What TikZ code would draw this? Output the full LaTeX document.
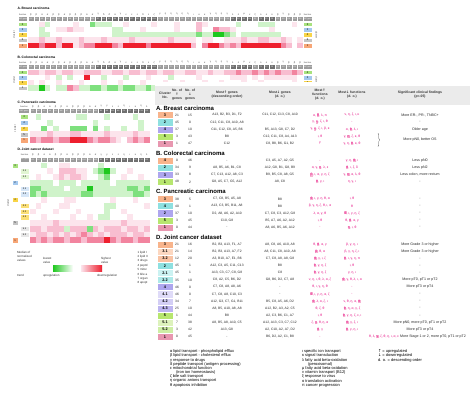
\documentclass[tikz,border=0pt]{standalone}
\usepackage{fontspec}
\setmainfont{Liberation Sans}
\newfontfamily\arr{DejaVu Sans}
\usetikzlibrary{decorations.pathreplacing}
\definecolor{hm0}{HTML}{1EC81E}
\definecolor{hm1}{HTML}{7EE07E}
\definecolor{hm2}{HTML}{CFF3CA}
\definecolor{hm3}{HTML}{FFFFFF}
\definecolor{hm4}{HTML}{FCE4EC}
\definecolor{hm5}{HTML}{F8BDD0}
\definecolor{hm6}{HTML}{F2849F}
\definecolor{hm7}{HTML}{EE1F2E}
\definecolor{hcG}{HTML}{A8E27E}
\definecolor{hcB}{HTML}{A4C8EE}
\definecolor{hcY}{HTML}{F8D448}
\definecolor{hcK}{HTML}{C4C4C4}
\definecolor{hcO}{HTML}{F7A676}
\definecolor{gx1}{HTML}{9C9C9C}
\definecolor{gx2}{HTML}{707070}
\definecolor{funpink}{HTML}{E6007E}
\definecolor{hlbg}{HTML}{F7B3D2}
\definecolor{tcO}{HTML}{F8B48C}
\definecolor{tcOa}{HTML}{FCD7C0}
\definecolor{tcOb}{HTML}{F9C3A4}
\definecolor{tcC}{HTML}{8EE0E0}
\definecolor{tcCa}{HTML}{CBF2F2}
\definecolor{tcCb}{HTML}{AEE9E9}
\definecolor{tcP}{HTML}{AEA6EE}
\definecolor{tcPa}{HTML}{DFDBF8}
\definecolor{tcPb}{HTML}{D3CEF5}
\definecolor{tcPc}{HTML}{BDB5F0}
\definecolor{tcG}{HTML}{B7E66F}
\definecolor{tcGa}{HTML}{DDF2BC}
\definecolor{tcGb}{HTML}{CEEEA5}
\definecolor{tcK}{HTML}{E897B0}
\definecolor{headgray}{HTML}{EBEBEB}
\newcommand\hl[1]{\begingroup\setlength{\fboxsep}{0.3pt}\colorbox{hlbg}{#1}\endgroup}
\newcommand\genesAB{A1/β/1,A2/β/1,A3/α/1,A4/α/1,A5/β/1,A6/β/1,A7/α/1,A8/β/1,A9/β/1,A10/β/1,A12/α/1,A13/α/1,B1/γ/2,B2/δ/2,B3/δ/2,B4/α/2,B5/γ/2,B6/ε/2,B7/ε/2,B8/ε/2,B9/δ/2,B10/ε/2,B11/ζ/2,C1/γ/1,C2/η/1,C3/η/1,C4/η/1,C5/η/1,C6/η/1,C7/ι/1,C8/κ/1,C9/κ/1,C10/γ/1,C11/η/1,C12/η/1,C13/γ/1,D1/λ/2,D2/λ/2,D3/μ/2,D4/ν/2,E1/ξ/1,F1/ο/2,F2/ο/2,F3/ο/2,G1/β/1,G2/γ/1,G4/β/1,G5/β/1,G8/β/1}
\newcommand\genesCD{A1/β/1,A2/β/1,A3/α/1,A4/α/1,A5/β/1,A6/β/1,A7/α/1,A8/β/1,A9/β/1,A10/β/1,A12/α/1,A13/α/1,B1/γ/2,B5/γ/2,B6/ε/2,B8/ε/2,C3/η/2,C7/ι/2,C8/κ/2,C11/η/2,D2/λ/2}
\newcommand\hmhead[6]{%
  \foreach \g/\f/\s [count=\i from 0] in #6 {%
    \node[funlbl] (#1f\i) at ({#2+(\i+0.5)*#3},#4) {\f};
    \node[genecell, fill=gx\s, minimum width=#3pt] (#1g\i) at ({#2+(\i+0.5)*#3},#5) {\g};
  }}
\newcommand\hmrow[5]{%
  \foreach \v [count=\i from 0] in {#5} {%
    \fill[fill=hm\v] ({#1+\i*#2},#3) rectangle ({#1+(\i+1)*#2+0.05},{#3+#4});
  }}
\newcommand\trow[9]{%
  \node[cbox, fill=#3] (#1c) at (165,#2) {#4};
  \node[tc] (#1u) at (177,#2) {#5};
  \node[tc] (#1d) at (190,#2) {#6};
  \node[tc] (#1ug) at (227,#2) {#7};
  \node[tc] (#1dg) at (280,#2) {#8};
  \node[tc,fun] (#1uf) at (320,#2) {#9};}
\newcommand\trowb[4]{%
  \node[tc,fun] (#1df) at (352,#2) {#3};
  \node[tc,clin] (#1cl) at (420,#2) {#4};}
\tikzset{
  every node/.style={inner sep=0pt, outer sep=0pt},
  hlabel/.style={anchor=west, font=\fontsize{3.3}{4}\selectfont\bfseries},
  sidelbl/.style={font=\fontsize{2.1}{2.5}\selectfont, text=black!75},
  funlbl/.style={font=\fontsize{2.5}{3}\selectfont, text=black!70},
  genecell/.style={minimum height=4.4pt, draw=white, line width=0.15pt, text=white, font=\fontsize{1.9}{2.2}\selectfont},
  hbox/.style={minimum width=8.6pt, minimum height=4.7pt, font=\fontsize{2.6}{3}\selectfont, draw=white, line width=0.2pt},
  dbox/.style={minimum width=6pt, minimum height=5.2pt, font=\fontsize{2.6}{3}\selectfont, draw=white, line width=0.2pt},
  dsub/.style={minimum width=8.5pt, minimum height=5.4pt, font=\fontsize{2.4}{3}\selectfont, draw=white, line width=0.2pt},
  vlbl/.style={font=\fontsize{2.4}{3}\selectfont, text=black!75},
  cbox/.style={minimum width=16pt, minimum height=7.1pt, draw=white, line width=0.4pt, font=\fontsize{3.8}{4.2}\selectfont\bfseries},
  tc/.style={font=\fontsize{3.3}{3.8}\selectfont, text=black!85},
  fun/.style={text=funpink},
  clin/.style={font=\fontsize{3.6}{4}\selectfont},
  thead/.style={font=\fontsize{3.4}{4.1}\selectfont\bfseries, align=center, text=black!80},
  seclbl/.style={anchor=west, font=\fontsize{6}{7}\selectfont\bfseries},
  legtext/.style={anchor=west, font=\fontsize{4}{4.5}\selectfont},
  smalltext/.style={anchor=west, align=left, font=\fontsize{3}{4}\selectfont, text=black!80},
}
\begin{document}
\begin{tikzpicture}[x=1pt,y=-1pt]
\useasboundingbox[fill=white] (0,0) rectangle (471,408);

% ================= Heatmap A =================
\node[hlabel] (ttlA) at (17.5,8) {A. Breast carcinoma};
\node[sidelbl] (afl) at (22.7,14.5) {function};
\node[genecell, fill=gx1, minimum width=9pt] (agl) at (22.7,18.75) {ABC gene};
\node[sidelbl] (afr) at (307.5,14.5) {function};
\node[genecell, fill=gx1, minimum width=9pt] (agr) at (307.5,18.75) {ABC gene};
\hmhead{a}{28}{5.612}{14.5}{18.75}{\genesAB}
\hmrow{28}{5.612}{21.5}{5.3}{3,3,4,2,3,3,3,3,4,3,3,1,2,2,2,3,3,4,3,3,3,3,4,3,3,3,4,3,3,3,5,4,3,3,3,3,3,2,3,3,3,2,2,2,3,3,3,4,3}
\hmrow{28}{5.612}{26.8}{5.3}{3,3,2,3,3,4,4,5,4,4,3,3,3,3,3,2,2,3,3,3,4,3,3,3,3,3,4,3,3,3,5,3,3,6,5,5,4,3,3,3,3,3,3,4,3,3,3,3,3}
\hmrow{28}{5.612}{32.1}{5.3}{3,3,2,2,3,3,3,3,3,3,3,3,3,3,3,2,2,2,2,2,2,2,2,2,2,2,2,2,2,2,1,2,2,0,0,1,2,3,2,2,2,2,2,2,2,3,3,3,3}
\hmrow{28}{5.612}{37.4}{5.3}{4,4,5,4,4,5,4,4,4,5,4,4,4,5,4,4,4,4,5,4,4,4,4,4,4,5,4,4,4,4,3,4,4,3,3,4,4,4,5,4,4,5,5,4,4,5,4,3,4}
\hmrow{28}{5.612}{42.7}{5.3}{7,7,6,7,7,5,7,7,4,5,6,6,7,7,7,6,5,7,7,7,7,6,7,7,7,7,7,7,7,5,3,6,7,7,6,5,6,5,7,7,7,7,7,7,7,6,5,3,5}
\foreach \lab/\col [count=\k from 0] in {3/hcG,2/hcB,4/hcY,5/hcK,1/hcO} {
  \node[hbox, fill=\col] (aL\k) at (22.7,{24.15+5.3*\k}) {\lab};
  \node[hbox, fill=\col] (aR\k) at (307.5,{24.15+5.3*\k}) {\lab};
}
\node[vlbl, rotate=90] (aclL) at (14,34.7) {cluster};
\node[vlbl, rotate=-90] (aclR) at (316.5,34.7) {cluster};

% ================= Heatmap B =================
\node[hlabel] (ttlB) at (17.5,57) {B. Colorectal carcinoma};
\node[sidelbl] (bfl) at (22.7,62.5) {function};
\node[genecell, fill=gx1, minimum width=9pt] (bgl) at (22.7,66.75) {ABC gene};
\node[sidelbl] (bfr) at (307.5,62.5) {function};
\node[genecell, fill=gx1, minimum width=9pt] (bgr) at (307.5,66.75) {ABC gene};
\hmhead{b}{28}{5.612}{62.5}{66.75}{\genesAB}
\hmrow{28}{5.612}{69.5}{5.3}{5,5,4,5,5,4,5,5,4,4,5,5,5,4,4,5,5,4,5,5,4,5,5,4,5,5,4,4,5,5,4,4,5,4,4,5,5,6,5,5,6,5,6,5,6,5,5,6,5}
\hmrow{28}{5.612}{74.8}{5.3}{3,3,3,4,3,2,3,2,3,3,7,3,3,2,3,3,3,2,3,3,3,4,3,3,3,2,3,3,3,3,4,3,3,3,3,3,4,4,4,3,4,3,4,4,4,4,4,4,3}
\hmrow{28}{5.612}{80.1}{5.3}{4,3,4,3,3,4,3,3,3,4,3,3,3,4,3,3,4,3,3,3,4,3,3,3,4,3,3,4,3,3,3,4,3,3,4,3,3,3,4,3,3,4,3,3,3,3,3,4,3}
\hmrow{28}{5.612}{85.4}{5.3}{2,2,0,2,3,2,2,6,5,2,2,1,1,2,1,1,2,1,1,2,2,1,2,2,2,1,2,2,1,2,2,1,2,2,2,1,2,2,1,2,2,2,1,2,2,2,1,2,2}
\foreach \lab/\col [count=\k from 0] in {4/hcG,2/hcB,3/hcY,1/hcK} {
  \node[hbox, fill=\col] (bL\k) at (22.7,{72.15+5.3*\k}) {\lab};
  \node[hbox, fill=\col] (bR\k) at (307.5,{72.15+5.3*\k}) {\lab};
}
\node[vlbl, rotate=90] (bclL) at (14,80.1) {cluster};
\node[vlbl, rotate=-90] (bclR) at (316.5,80.1) {cluster};

% ================= Heatmap C =================
\node[hlabel] (ttlC) at (17.5,102) {C. Pancreatic carcinoma};
\node[sidelbl] (cfl) at (24,106.5) {function};
\node[genecell, fill=gx1, minimum width=11pt] (cgl) at (24,110.75) {ABC gene};
\hmhead{c}{30}{5.7}{106.5}{110.75}{\genesCD}
\hmrow{30}{5.7}{114}{5.8}{3,2,3,3,3,3,3,3,2,2,3,3,3,2,3,3,3,3,2,3,3}
\hmrow{30}{5.7}{119.8}{5.8}{3,3,3,2,3,3,3,3,3,3,3,2,3,3,3,3,3,3,3,2,3}
\hmrow{30}{5.7}{125.6}{5.8}{3,3,1,3,2,3,3,1,1,1,3,1,3,2,3,3,2,3,3,2,3}
\hmrow{30}{5.7}{131.4}{5.8}{4,4,4,5,4,4,4,5,5,4,4,4,4,5,4,4,4,4,5,4,4}
\hmrow{30}{5.7}{137.2}{5.8}{6,5,6,6,5,6,6,7,7,7,6,5,6,6,5,4,3,5,6,5,6}
\foreach \lab/\col [count=\k from 0] in {3/hcG,4/hcB,2/hcY,5/hcK,1/hcO} {
  \node[hbox, fill=\col, minimum height=5.2pt] (cL\k) at (24,{116.9+5.8*\k}) {\lab};
}
\node[vlbl, rotate=90] (cclL) at (15,128.5) {cluster};

% ================= Heatmap D =================
\node[hlabel] (ttlD) at (17.5,149.5) {D. Joint cancer dataset};
\node[sidelbl] (dfl) at (24.5,154.7) {function};
\node[genecell, fill=gx1, minimum width=9pt] (dgl) at (24.5,159.5) {ABC gene};
\hmhead{d}{30}{5.7}{154.7}{159.5}{\genesCD}
\hmrow{30}{5.7}{162.5}{5.75}{3,3,2,3,3,4,4,3,3,3,3,3,2,3,3,3,3,3,3,3,3}
\hmrow{30}{5.7}{168.25}{5.75}{3,3,3,4,3,5,5,5,4,4,3,2,1,0,2,3,3,4,3,3,3}
\hmrow{30}{5.7}{174}{5.75}{3,4,3,3,4,5,4,5,5,4,3,3,2,1,3,3,4,3,3,4,3}
\hmrow{30}{5.7}{179.75}{5.75}{2,2,2,2,3,2,2,2,3,2,2,2,2,2,3,2,2,2,2,2,2}
\hmrow{30}{5.7}{185.5}{5.75}{1,1,2,2,2,2,3,2,2,2,0,2,2,2,2,2,2,1,1,2,1}
\hmrow{30}{5.7}{191.25}{5.75}{1,2,1,2,2,2,2,2,2,1,1,2,2,2,2,2,2,2,1,1,2}
\hmrow{30}{5.7}{197}{5.75}{3,3,4,3,3,3,4,4,3,3,3,3,3,3,4,3,3,3,4,3,3}
\hmrow{30}{5.7}{202.75}{5.75}{3,4,3,3,3,4,4,3,3,3,3,3,3,2,2,3,3,3,3,3,4}
\hmrow{30}{5.7}{208.5}{5.75}{4,3,3,3,4,3,3,3,4,3,3,3,3,2,3,3,4,3,3,3,3}
\hmrow{30}{5.7}{214.25}{5.75}{3,3,4,3,3,3,3,4,3,3,4,3,2,2,3,3,3,4,3,3,3}
\hmrow{30}{5.7}{220}{5.75}{4,4,4,4,5,4,4,4,4,4,4,4,4,4,4,4,5,4,4,4,4}
\hmrow{30}{5.7}{225.75}{5.75}{5,5,4,5,5,5,2,5,5,5,1,5,4,5,5,5,4,5,5,4,5}
\hmrow{30}{5.7}{231.5}{5.75}{4,5,5,4,5,4,5,4,5,6,5,4,5,4,5,5,5,4,5,5,4}
\hmrow{30}{5.7}{237.25}{5.75}{6,5,6,5,6,6,5,6,6,5,6,6,6,7,6,5,6,6,5,6,6}
\foreach \lab/\col/\r in {3/hcG/0,2/hcB/3,4/hcY/6,5/hcK/10,1/hcO/13} {
  \node[dbox, fill=\col] (dL\r) at (15,{165.375+5.75*\r}) {\lab};
}
\foreach \lab/\col/\r in {3.1/hcG!35/1,3.2/hcG!35/2,2.1/hcB!45/4,2.2/hcB!45/5,4.1/hcY!75/7,4.2/hcY!75/8,4.3/hcY!75/9,5.1/hcK!40/11,5.2/hcK!40/12} {
  \node[dsub, fill=\col] (dS\r) at (24.5,{165.375+5.75*\r}) {\lab};
}
\node[vlbl, rotate=90] (dclL) at (8,203) {cluster};

% ================= Left legend =================
\node[smalltext] (medv) at (17,256) {Median of\\normalized\\values};
\node[smalltext] (lowv) at (43,260.5) {lowest\\value};
\node[smalltext] (highv) at (101,260.5) {highest\\value};
\node[minimum width=20pt, minimum height=6pt, left color=hm0, right color=white] (gradG) at (63,268.5) {};
\node[minimum width=21pt, minimum height=6pt, left color=hm4, right color=hm7] (gradR) at (91.5,268.5) {};
\node[smalltext] (trnd) at (17,275.5) {trend};
\node[smalltext] (upr) at (43,275.5) {upregulation};
\node[smalltext] (dnr) at (97,275.5) {downregulation};
\foreach \t [count=\k from 0] in {1 lipid I,2 lipid II,3 drugs,4 peptd,5 mitoc,6 bile a,7 organ,8 apopt} {
  \node[smalltext] (fn\k) at (137.5,{252.5+4.3*\k}) {\t};
}

% ================= Table =================
\fill[white] (155,82) rectangle (471,345);
\fill[headgray] (155,86) rectangle (470,104.5);
\node[thead] (h1) at (165,95) {Cluster\\No.};
\node[thead] (h2) at (177,95) {No. of\\{\arr ↑}\\genes};
\node[thead] (h3) at (190,95) {No. of\\{\arr ↓}\\genes};
\node[thead] (h4) at (227,95) {Most{\arr ↑} genes\\(descending order)};
\node[thead] (h5) at (280,95) {Most{\arr ↓} genes\\(d. o.)};
\node[thead] (h6) at (320,95) {Most{\arr ↑}\\functions\\(d. o.)};
\node[thead] (h7) at (352,95) {Most{\arr ↓} functions\\(d. o.)};
\node[thead] (h8) at (420,95) {Significant clinical findings\\(p<.05)};

% A
\node[seclbl] (sA) at (156,108) {A. Breast carcinoma};
\trow{tA1}{115.05}{tcO}{3}{21}{15}{A13, B2, B3, D1, F2}{C11, C12, C13, C8, A10}{α, \hl{θ}, λ, π}
\trowb{tA1}{115.05}{ν, η, ζ, ι, κ}{More ER-, PR-, TNBC+}
\trow{tA2}{122.15}{tcC}{2}{45}{0}{C12, C11, C8, A10, A8}{-}{γ, \hl{η}, ζ, ι, θ}
\trowb{tA2}{122.15}{-}{-}
\trow{tA3}{129.25}{tcP}{4}{37}{10}{C11, C12, C8, A5, B6}{B5, A13, G8, C7, D2}{γ, \hl{η}, ζ, ι, β, κ}
\trowb{tA3}{129.25}{α, \hl{θ}, λ, ι}{Older age}
\trow{tA4}{136.35}{tcG}{5}{3}{43}{B8}{C12, C11, C8, A4, A13}{ι, θ}
\node[tc,fun] (tA4df) at (352,136.35) {γ, \hl{η}, ζ, κ, θ};
\trow{tA5}{143.45}{tcK}{1}{1}{47}{C12}{C8, B8, B6, G1, B2}{γ}
\node[tc,fun] (tA5df) at (352,143.45) {γ, η, \hl{θ}, κ, θ};
\coordinate (brT) at (378,133.3);
\coordinate (brB) at (378,146.5);
\draw[decorate, decoration={brace, amplitude=1.6pt}, line width=0.3pt, black!70] (brT) -- (brB);
\node[tc,clin] (tA45cl) at (420,139.9) {More pN0, better OS};

% B
\node[seclbl] (sB) at (156,153.5) {B. Colorectal carcinoma};
\trow{tB1}{160.55}{tcO}{4}{0}{46}{-}{C3, A5, A7, A2, G5}{-}
\trowb{tB1}{160.55}{γ, η, \hl{θ}, ι}{Less pN0}
\trow{tB2}{167.65}{tcC}{2}{34}{9}{A8, B5, A6, B1, C8}{A12, G8, B1, G8, B9}{α, γ, \hl{η}, λ, ε}
\trowb{tB2}{167.65}{\hl{θ}, ι, ζ, δ}{Less pN2}
\trow{tB3}{174.75}{tcP}{3}{33}{8}{C7, C13, A12, A8, C3}{B9, B5, C8, A8, G5}{\hl{β}, ι, α, γ, η, ζ}
\trowb{tB3}{174.75}{γ, \hl{η}, α, λ, θ}{Less colon, more rectum}
\trow{tB4}{181.85}{tcG}{1}{48}{2}{G8, A5, C7, G5, A12}{A8, C8}{\hl{θ}, γ, ι}
\trowb{tB4}{181.85}{η, γ, ι}{-}

% C
\node[seclbl] (sC) at (156,191.8) {C. Pancreatic carcinoma};
\trow{tC1}{198.95}{tcO}{3}{38}{5}{C7, C8, B5, A5, A8}{B8}{\hl{θ}, ι, γ, η, θ, α}
\trowb{tC1}{198.95}{ι, θ}{-}
\trow{tC2}{206.05}{tcC}{4}{40}{1}{A13, C3, B5, B11, A8}{B8}{β, γ, η, ζ, θ, ι, α}
\trowb{tC2}{206.05}{θ}{-}
\trow{tC3}{213.15}{tcP}{2}{37}{10}{D2, A8, A6, A2, A10}{C7, C8, C3, A12, G8}{λ, α, γ, θ}
\trowb{tC3}{213.15}{\hl{θ}, ι, γ, η, ζ}{-}
\trow{tC4}{220.25}{tcG}{5}{3}{45}{C10, G8}{B5, A7, A6, A2, A12}{ι, θ}
\trowb{tC4}{220.25}{θ, \hl{θ}, α, γ}{-}
\trow{tC5}{227.35}{tcK}{1}{0}{44}{-}{A8, A6, B5, A6, A12}{-}
\trowb{tC5}{227.35}{\hl{η}, ι, θ}{-}

% D
\node[seclbl] (sD) at (156,237.3) {D. Joint cancer dataset};
\trow{tD1}{244.45}{tcO}{3}{21}{16}{B2, B3, A13, F1, A7}{A8, C8, A6, A10, A8}{θ, \hl{θ}, α, γ}
\trowb{tD1}{244.45}{β, γ, η, ι}{More Grade 3 or higher}
\trow{tD2}{251.55}{tcOa}{3.1}{21}{14}{B2, B3, A13, A7, F2}{A8, C11, C8, A10, A8}{\hl{β}, θ, α}
\trowb{tD2}{251.55}{β, γ, η, ζ, ι}{More Grade 3 or higher}
\trow{tD3}{258.65}{tcOb}{3.2}{12}{20}{A3, B10, A7, E1, B6}{C7, C8, A8, A8, G8}{\hl{θ}, γ, ι, ζ}
\trowb{tD3}{258.65}{\hl{θ}, ι, γ, η, π}{-}
\trow{tD4}{265.75}{tcC}{2}{45}{1}{A12, C3, A5, C11, C13}{B8}{\hl{θ}, γ, η, ζ}
\trowb{tD4}{265.75}{ι, θ}{-}
\trow{tD5}{272.85}{tcCa}{2.1}{45}{1}{A13, C3, C7, C8, G8}{C8}{\hl{θ}, γ, η, ζ}
\trowb{tD5}{272.85}{γ, η, ι}{-}
\trow{tD6}{279.95}{tcCb}{2.2}{35}{10}{C8, A2, C5, B6, D2}{G8, B6, D2, C7, A8}{ν, η, ι, θ, λ, α, ζ}
\trowb{tD6}{279.95}{\hl{θ}, γ, θ, λ, ι, α}{More pT0, pT1 or pT2}
\trow{tD7}{287.05}{tcP}{4}{46}{0}{C7, C8, A8, A8, A6}{-}{θ, ι, γ, η, θ}
\trowb{tD7}{287.05}{-}{More pT3 or pT4}
\trow{tD8}{294.15}{tcPa}{4.1}{46}{0}{C7, C8, A8, C10, C3}{-}{\hl{θ}, ι, γ, η, α, ζ}
\trowb{tD8}{294.15}{-}{-}
\trow{tD9}{301.25}{tcPb}{4.2}{34}{7}{A12, G3, C7, G1, B11}{B5, C8, A5, A6, D2}{\hl{θ}, λ, α, ζ, ι}
\trowb{tD9}{301.25}{ν, θ, η, α, \hl{θ}}{-}
\trow{tD10}{308.35}{tcPc}{4.3}{25}{10}{A8, B5, A10, A8, A8}{A12, B2, A3, A2, C5}{θ, ζ, θ}
\trowb{tD10}{308.35}{\hl{θ}, η, α, γ, ζ}{-}
\trow{tD11}{315.45}{tcG}{5}{1}{44}{B8}{A2, C3, B6, C1, A7}{ι, θ}
\trowb{tD11}{315.45}{\hl{θ}, γ, η, ζ, ε, ι}{-}
\trow{tD12}{322.55}{tcGa}{5.1}{7}{38}{A8, B5, A8, A10, C5}{A12, A13, C3, C7, C12}{ζ, \hl{γ}, θ, η, α}
\trowb{tD12}{322.55}{\hl{θ}, γ, ζ, ι}{More pN0, more pT0, pT1 or pT2}
\trow{tD13}{329.65}{tcGb}{5.2}{3}{42}{A13, G8}{A2, C10, A2, A7, D2}{\hl{θ}, γ}
\trowb{tD13}{329.65}{\hl{θ}, γ, η, ι}{More pT3 or pT4}
\trow{tD14}{336.75}{tcK}{1}{0}{45}{-}{B6, D2, A2, C1, B8}{-}
\node[tc,fun] (tD14df) at (384,336.75) {θ, λ, \hl{γ}, ζ, θ, η, ι, α, ε};
\node[tc,clin] (tD14cl) at (433,336.75) {More Stage 1 or 2, more pT0, pT1 or pT2};

% ================= Bottom legend =================
\foreach \t [count=\k from 0] in {α lipid transport - phospholipid efflux,β lipid transport - cholesterol efflux,γ response to drugs,δ peptide transport (antigen processing),ε mitochondrial function} {
  \node[legtext] (la\k) at (170,{351.7+4.17*\k}) {\t};
}
\node[legtext] (la5) at (176,372.55) {(iron ion homeostasis)};
\node[legtext] (la6) at (170,376.7) {ζ bile salt transport};
\node[legtext] (la7) at (170,380.9) {η organic anions transport};
\node[legtext] (la8) at (170,385.05) {θ apoptosis inhibition};
\node[legtext] (lb0) at (302,351.7) {ι specific ion transport};
\node[legtext] (lb1) at (302,355.87) {κ signal transduction};
\node[legtext] (lb2) at (302,360.04) {λ fatty acid beta-oxidation};
\node[legtext] (lb3) at (308,364.2) {(peroxisomal)};
\node[legtext] (lb4) at (302,368.38) {μ fatty acid beta-oxidation};
\node[legtext] (lb5) at (302,372.55) {ν vitamin transport (B12)};
\node[legtext] (lb6) at (302,376.7) {ξ response to virus};
\node[legtext] (lb7) at (302,380.9) {ο translation activation};
\node[legtext] (lb8) at (302,385.05) {π cancer progression};
\node[legtext] (lc0) at (378,351.7) {{\arr ↑} = upregulated};
\node[legtext] (lc1) at (378,355.87) {{\arr ↓} = downregulated};
\node[legtext] (lc2) at (378,360.04) {d. o. = descending order};
\end{tikzpicture}
\end{document}
